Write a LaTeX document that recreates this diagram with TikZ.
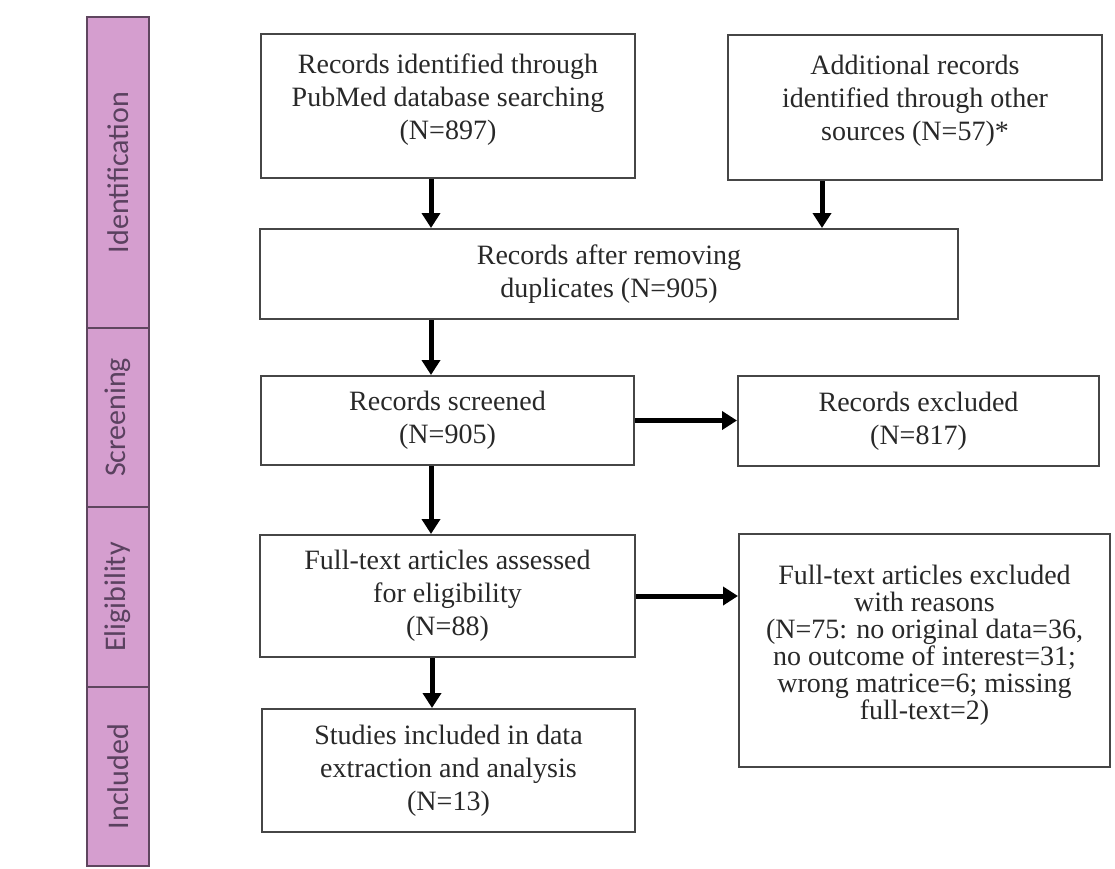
\documentclass[tikz,border=0pt]{standalone}
\usepackage{fontspec}
\setmainfont{Liberation Serif}
\newfontfamily\stagefont{Carlito}
\usetikzlibrary{arrows.meta}

\definecolor{stagepink}{RGB}{213,158,207}
\definecolor{stageline}{RGB}{95,70,95}
\definecolor{stagetext}{RGB}{90,65,95}
\definecolor{boxline}{RGB}{70,70,70}
\definecolor{boxtext}{RGB}{40,40,40}

\begin{document}
\begin{tikzpicture}[x=1pt,y=-1pt,
    box/.style={draw=boxline,line width=2pt,align=center,text=boxtext,inner sep=0pt,
      font=\fontsize{28}{33}\selectfont},
    stage/.style={draw=stageline,line width=1.5pt,fill=stagepink,rotate=90,minimum height=62pt,
      inner sep=0pt,text=stagetext,font=\stagefont\fontsize{30}{33}\selectfont},
    arr/.style={line width=5pt,-{Triangle[length=15pt,width=18pt]}}]
    \useasboundingbox (0,0) rectangle (1115,868);

    % stages on the left
    \node[stage,minimum width=311pt] (ident) at (118,172.5) {Identification};
    \node[stage,minimum width=179pt] (screen) at (118,417.5) {Screening};
    \node[stage,minimum width=180pt] (elig) at (118,597) {Eligibility};
    \node[stage,minimum width=179pt] (incl) at (118,776.5) {Included};

    % flow boxes
    \node[box,minimum width=374pt,minimum height=144pt,text depth=19pt] (pubmed) at (448,106)
        {Records identified through\\PubMed database searching\\(N=897)};
    \node[box,minimum width=374pt,minimum height=145pt,text depth=19pt] (other) at (915,107.5)
        {Additional records\\identified through other\\sources (N=57)*};
    \node[box,minimum width=698pt,minimum height=90pt] (dupl) at (609,274)
        {Records after removing\\duplicates (N=905)};
    \node[box,minimum width=373pt,minimum height=89pt] (screened) at (447.5,420.5)
        {Records screened\\(N=905)};
    \node[box,minimum width=361pt,minimum height=90pt] (recexcl) at (918.5,421)
        {Records excluded\\(N=817)};
    \node[box,minimum width=375pt,minimum height=122pt] (fulltext) at (447.5,596)
        {Full-text articles assessed\\for eligibility\\(N=88)};
    \node[box,minimum width=371pt,minimum height=233pt,text depth=17pt,
        font=\fontsize{28}{27}\selectfont] (ftexcl) at (924.5,650.5)
        {Full-text articles excluded\\with reasons\\(N=75: no original data=36,\\no outcome of interest=31;\\wrong matrice=6; missing\\full-text=2)};
    \node[box,minimum width=373pt,minimum height=123pt] (included) at (448.5,770.5)
        {Studies included in data\\extraction and analysis\\(N=13)};

    \foreach \from/\to/\dx in {pubmed/dupl/-178,other/dupl/213,dupl/screened/-16.5,screened/fulltext/-16.5,fulltext/included/-16.5}
        \draw[arr] ([xshift=\dx pt]\to.north |- \from.south) -- ([xshift=\dx pt]\to.north);

    \draw[arr] (screened.east) -- (screened.east -| recexcl.west);
    \draw[arr] (fulltext.east) -- (fulltext.east -| ftexcl.west);
\end{tikzpicture}
\end{document}
